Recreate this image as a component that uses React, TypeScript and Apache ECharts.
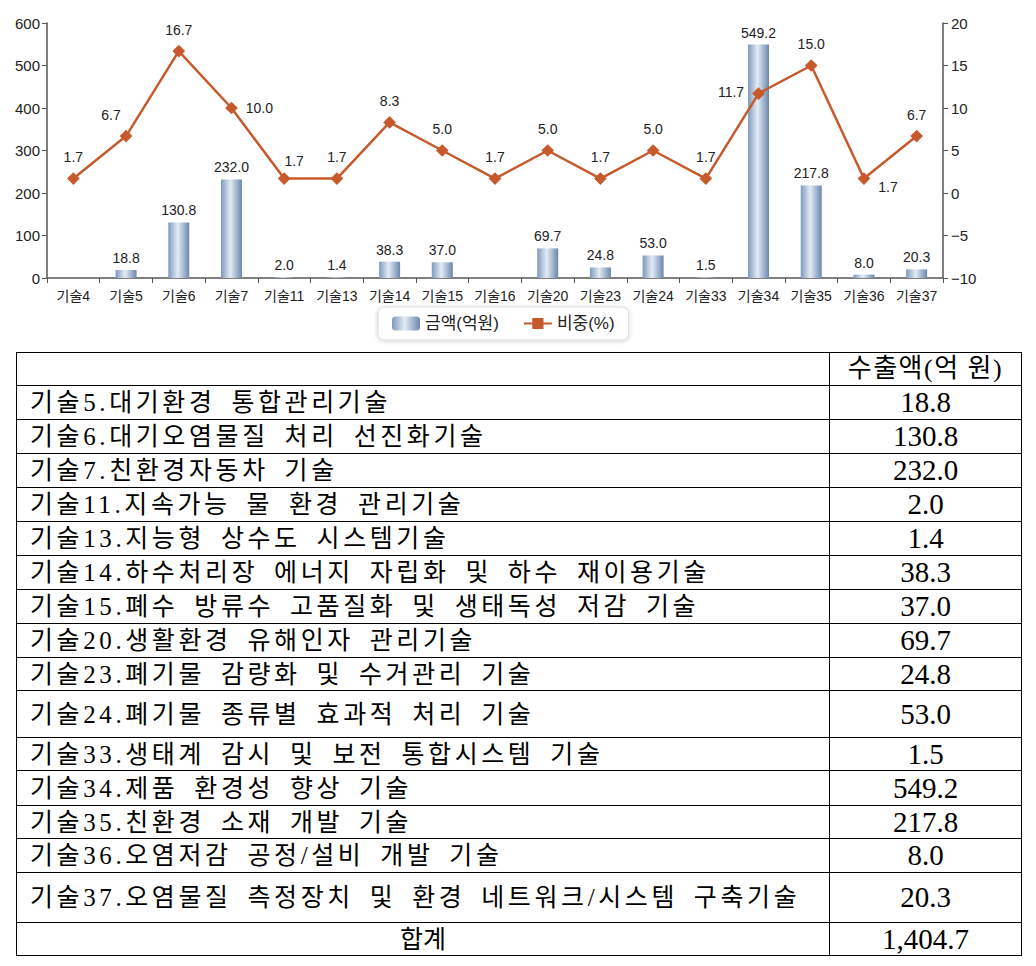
import React, { useEffect, useRef } from "react";
import * as echarts from "echarts";

// ---------- chart data ----------
const categories = [
  "기술4", "기술5", "기술6", "기술7", "기술11", "기술13", "기술14", "기술15", "기술16",
  "기술20", "기술23", "기술24", "기술33", "기술34", "기술35", "기술36", "기술37",
];
const amounts: (number | null)[] = [
  null, 18.8, 130.8, 232.0, 2.0, 1.4, 38.3, 37.0, null,
  69.7, 24.8, 53.0, 1.5, 549.2, 217.8, 8.0, 20.3,
];
const shares = [
  1.7, 6.7, 16.7, 10.0, 1.7, 1.7, 8.3, 5.0, 1.7,
  5.0, 1.7, 5.0, 1.7, 11.7, 15.0, 1.7, 6.7,
];
const amountAxis = { min: 0, max: 600, interval: 100 };
const shareAxis = { min: -10, max: 20, interval: 5 };
const seriesNames = ["금액(억원)", "비중(%)"];

// label placement for the share line (style, not data)
const shareLabelPlacement = [
  "top", "topLeft", "top", "right", "topRight", "top", "top", "top", "top",
  "top", "top", "top", "top", "left", "top", "bottomRight", "top",
];

// ---------- table data ----------
const tableHeader = ["", "수출액(억 원)"];
const techNames = [
  "기술5.대기환경 통합관리기술",
  "기술6.대기오염물질 처리 선진화기술",
  "기술7.친환경자동차 기술",
  "기술11.지속가능 물 환경 관리기술",
  "기술13.지능형 상수도 시스템기술",
  "기술14.하수처리장 에너지 자립화 및 하수 재이용기술",
  "기술15.폐수 방류수 고품질화 및 생태독성 저감 기술",
  "기술20.생활환경 유해인자 관리기술",
  "기술23.폐기물 감량화 및 수거관리 기술",
  "기술24.폐기물 종류별 효과적 처리 기술",
  "기술33.생태계 감시 및 보전 통합시스템 기술",
  "기술34.제품 환경성 향상 기술",
  "기술35.친환경 소재 개발 기술",
  "기술36.오염저감 공정/설비 개발 기술",
  "기술37.오염물질 측정장치 및 환경 네트워크/시스템 구축기술",
];
const exportValues = [
  "18.8", "130.8", "232.0", "2.0", "1.4", "38.3", "37.0", "69.7",
  "24.8", "53.0", "1.5", "549.2", "217.8", "8.0", "20.3",
];
const totalLabel = "합계";
const totalValue = "1,404.7";

// row heights (style)
const headerHeight = 33;
const rowHeights = [34, 34, 34, 34, 34, 34, 34, 34, 33, 47, 33, 35, 33, 34, 50];
const totalHeight = 33;

const FONT = "'Liberation Sans', 'Noto Sans CJK KR', sans-serif";
const TABLE_FONT = "'Liberation Serif', 'Noto Sans CJK KR', serif";

function placementToLabel(p: string) {
  switch (p) {
    case "topLeft":
      return { position: "top", offset: [-15, 0] };
    case "topRight":
      return { position: "top", offset: [10, 4] };
    case "right":
      return { position: "right", offset: [0, 0] };
    case "left":
      return { position: "left", offset: [0, -2] };
    case "bottomRight":
      return { position: "right", offset: [0, 8] };
    default:
      return { position: "top", offset: [0, 0] };
  }
}

function Chart() {
  const ref = useRef<HTMLDivElement>(null);
  useEffect(() => {
    if (!ref.current) return;
    const chart = echarts.init(ref.current, null, { renderer: "svg" });
    const barColor = new echarts.graphic.LinearGradient(0, 0, 1, 0, [
      { offset: 0, color: "#7f99bd" },
      { offset: 0.45, color: "#e3ebf4" },
      { offset: 1, color: "#6a87ae" },
    ]);
    const lineColor = "#c65a2c";
    const axisLineColor = "#555";
    chart.setOption({
      animation: false,
      backgroundColor: "#fff",
      textStyle: { fontFamily: FONT },
      grid: { left: 47, right: 93, top: 23, bottom: 67, containLabel: false },
      legend: {
        data: seriesNames,
        left: 378,
        top: 307,
        itemWidth: 28,
        itemHeight: 14,
        itemGap: 24,
        symbolRotate: 0,
        padding: [8, 14, 8, 14],
        backgroundColor: "#fff",
        borderColor: "#dcdcdc",
        borderWidth: 1,
        borderRadius: 6,
        shadowBlur: 4,
        shadowColor: "rgba(0,0,0,0.18)",
        shadowOffsetY: 1,
        textStyle: { fontSize: 17, color: "#222", fontFamily: FONT },
      },
      xAxis: {
        type: "category",
        data: categories,
        boundaryGap: true,
        axisLine: { lineStyle: { color: axisLineColor, width: 1.5 } },
        axisTick: { show: true, length: 5, lineStyle: { color: axisLineColor } },
        axisLabel: { color: "#222", fontSize: 14, margin: 11, interval: 0, fontFamily: FONT },
      },
      yAxis: [
        {
          type: "value",
          position: "left",
          min: amountAxis.min,
          max: amountAxis.max,
          interval: amountAxis.interval,
          splitLine: { show: false },
          axisLine: { show: true, lineStyle: { color: axisLineColor, width: 1.5 } },
          axisTick: { show: true, length: 5, lineStyle: { color: axisLineColor } },
          axisLabel: { color: "#222", fontSize: 15, margin: 7, fontFamily: FONT },
        },
        {
          type: "value",
          position: "right",
          min: shareAxis.min,
          max: shareAxis.max,
          interval: shareAxis.interval,
          splitLine: { show: false },
          axisLine: { show: true, lineStyle: { color: axisLineColor, width: 1.5 } },
          axisTick: { show: true, length: 5, lineStyle: { color: axisLineColor } },
          axisLabel: {
            color: "#222",
            fontSize: 15,
            margin: 8,
            fontFamily: FONT,
            formatter: (v: number) => String(v).replace("-", "\u2212"),
          },
        },
      ],
      series: [
        {
          name: seriesNames[0],
          type: "bar",
          yAxisIndex: 0,
          barWidth: 21,
          data: amounts,
          itemStyle: { color: barColor },
          label: {
            show: true,
            position: "top",
            distance: 5,
            color: "#222",
            fontSize: 14,
            fontFamily: FONT,
            formatter: (p: any) => (p.value == null ? "" : Number(p.value).toFixed(1)),
          },
          z: 1,
        },
        {
          name: seriesNames[1],
          type: "line",
          yAxisIndex: 1,
          data: shares.map((v, i) => ({
            value: v,
            label: placementToLabel(shareLabelPlacement[i]),
          })),
          lineStyle: { color: lineColor, width: 2.5 },
          itemStyle: { color: lineColor },
          symbol: "rect",
          symbolSize: 9,
          symbolRotate: 45,
          label: {
            show: true,
            distance: 8,
            color: "#222",
            fontSize: 14,
            fontFamily: FONT,
            formatter: (p: any) => Number(p.value).toFixed(1),
          },
          z: 3,
        },
      ],
    });
    return () => chart.dispose();
  }, []);
  return (
    <div
      ref={ref}
      style={{ position: "absolute", left: 0, top: 0, width: 1036, height: 345 }}
    />
  );
}

export default function App() {
  const cellBase: React.CSSProperties = {
    border: "1.5px solid #000",
    padding: 0,
    fontFamily: TABLE_FONT,
    fontSize: 25,
    lineHeight: 1,
    color: "#000",
    verticalAlign: "middle",
    whiteSpace: "nowrap",
  };
  const nameCell: React.CSSProperties = {
    ...cellBase,
    textAlign: "left",
    paddingLeft: 13,
    letterSpacing: 3.6,
    wordSpacing: 6,
  };
  const numCell: React.CSSProperties = { ...cellBase, textAlign: "center", fontSize: 29 };
  const headCell: React.CSSProperties = { ...cellBase, textAlign: "center", fontSize: 26, letterSpacing: 1.5 };
  return (
    <div
      style={{
        position: "absolute",
        left: 0,
        top: 0,
        width: 1036,
        height: 966,
        background: "#fff",
        overflow: "hidden",
      }}
    >
      <Chart />
      <table
        style={{
          position: "absolute",
          left: 16,
          top: 352,
          width: 1005,
          borderCollapse: "collapse",
          tableLayout: "fixed",
        }}
      >
        <colgroup>
          <col style={{ width: 813 }} />
          <col style={{ width: 192 }} />
        </colgroup>
        <tbody>
          <tr style={{ height: headerHeight }}>
            <td style={nameCell}>{tableHeader[0]}</td>
            <td style={headCell}>{tableHeader[1]}</td>
          </tr>
          {techNames.map((n, i) => (
            <tr key={n} style={{ height: rowHeights[i] }}>
              <td style={nameCell}>{n}</td>
              <td style={numCell}>{exportValues[i]}</td>
            </tr>
          ))}
          <tr style={{ height: totalHeight }}>
            <td style={{ ...cellBase, textAlign: "center" }}>{totalLabel}</td>
            <td style={numCell}>{totalValue}</td>
          </tr>
        </tbody>
      </table>
    </div>
  );
}
